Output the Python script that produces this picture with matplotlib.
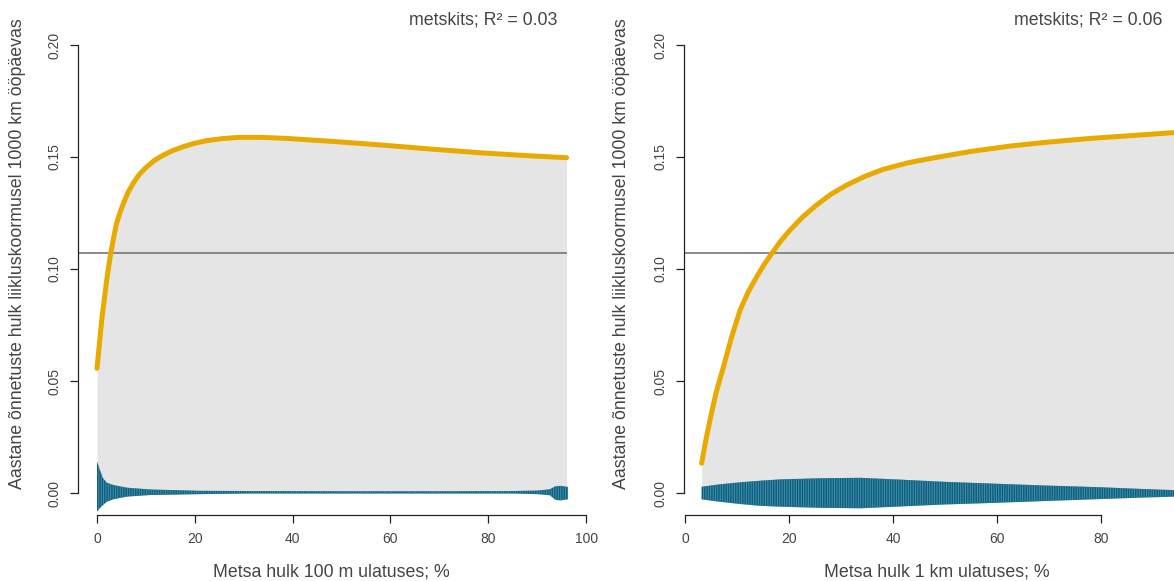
import matplotlib

matplotlib.use("Agg")
import matplotlib.pyplot as plt

# --- andmed (loetud jooniselt) ---
baseline_rate = 0.107

# vasak paneel: metsa hulk 100 m ulatuses
left_x = [0, 0.5, 0.96, 1.5, 1.98, 2.4, 2.8, 3.4, 4.0, 4.7, 5.4, 6.3, 7.4,
          8.7, 10.2, 11.8, 13.6, 15.5, 17.6, 19.9, 22.4, 25.5, 29.2, 33.5,
          38.8, 48.0, 57.9, 68.0, 78.3, 88.0, 96.0]
left_y = [0.0557, 0.0668, 0.0772, 0.0866, 0.0951, 0.1013, 0.1070, 0.1140,
          0.1204, 0.1252, 0.1293, 0.1340, 0.1383, 0.1424, 0.1457, 0.1486,
          0.1509, 0.1529, 0.1546, 0.1561, 0.1573, 0.1582, 0.1588, 0.1588,
          0.1583, 0.1570, 0.1554, 0.1536, 0.1519, 0.1506, 0.1497]
left_band_x = [0, 0.6, 1.2, 2.0, 3.3, 6.1, 10.8, 21, 31, 50, 70, 85, 90,
               92.6, 93.7, 94.7, 95.5, 96.3]
left_band_hi = [0.0141, 0.0103, 0.0067, 0.0046, 0.0036, 0.0024, 0.0016,
                0.0010, 0.0009, 0.0008, 0.0008, 0.0009, 0.0011, 0.0017,
                0.0030, 0.0032, 0.0030, 0.0027]
left_band_lo = [-0.0083, -0.0067, -0.0054, -0.0039, -0.0028, -0.0016,
                -0.0009, -0.0005, -0.0002, -0.0002, -0.0002, -0.0002,
                -0.0005, -0.0010, -0.0030, -0.0033, -0.0030, -0.0028]

# parem paneel: metsa hulk 1 km ulatuses
right_x = [3.2, 4.0, 4.8, 6.0, 7.4, 9.0, 10.6, 12.2, 13.8, 15.2, 16.7, 18.4,
           20.2, 22.6, 25.3, 28.0, 31.1, 34.5, 38.1, 43.0, 48.0, 55.0, 62.5,
           70.0, 77.9, 86.0, 94.0]
right_y = [0.0133, 0.0235, 0.0326, 0.0450, 0.0564, 0.0700, 0.0817, 0.0900,
           0.0966, 0.1020, 0.1070, 0.1125, 0.1174, 0.1232, 0.1286, 0.1333,
           0.1375, 0.1413, 0.1445, 0.1475, 0.1497, 0.1525, 0.1549, 0.1567,
           0.1583, 0.1596, 0.1609]
right_band_x = [3.2, 6.7, 10.6, 14.4, 18.3, 26, 33.7, 41.3, 50, 60.6, 70,
                79.8, 87, 94]
right_band_hi = [0.0028, 0.0039, 0.0048, 0.0055, 0.0061, 0.0066, 0.0068,
                 0.0060, 0.0050, 0.0041, 0.0033, 0.0026, 0.0019, 0.0013]
right_band_lo = [-0.0028, -0.0039, -0.0049, -0.0057, -0.0061, -0.0066,
                 -0.0068, -0.0060, -0.0051, -0.0043, -0.0035, -0.0027,
                 -0.0021, -0.0016]

titles = ["metskits; R\u00b2 = 0.03", "metskits; R\u00b2 = 0.06"]
xlabels = ["Metsa hulk 100 m ulatuses; %", "Metsa hulk 1 km ulatuses; %"]
ylabel = "Aastane õnnetuste hulk liikluskoormusel 1000 km ööpäevas"
y_ticks = [0.00, 0.05, 0.10, 0.15, 0.20]
left_xticks = [0, 20, 40, 60, 80, 100]
right_xticks = [0, 20, 40, 60, 80]

# --- stiil ---
plt.rcParams["font.family"] = ["Liberation Sans", "DejaVu Sans"]
plt.rcParams["hatch.linewidth"] = 0.6

W, H = 1174, 581
TEXT = "#444444"
AXIS = "#222222"
CURVE = "#E8AA00"
FILL = "#E5E5E5"
BAND = "#0D6180"
BAND_STRIPE = "#4C93AD"
HLINE = "#808080"

fig = plt.figure(figsize=(W / 100, H / 100), dpi=100)


def px_axes(x0, x1, y_top, y_bot):
    return fig.add_axes([x0 / W, 1 - y_bot / H, (x1 - x0) / W, (y_bot - y_top) / H])


def draw_panel(ax, xs, ys, bx, blo, bhi, xticks, hline_x):
    ax.fill_between(xs, 0, ys, color=FILL, linewidth=0, zorder=1)
    ax.hlines(baseline_rate, hline_x[0], hline_x[1], color=HLINE, lw=1.3, zorder=2)
    ax.fill_between(bx, blo, bhi, facecolor=BAND, edgecolor=BAND_STRIPE,
                    hatch="|" * 7, linewidth=0, zorder=3)
    ax.plot(xs, ys, color=CURVE, lw=3.6, solid_capstyle="round",
            solid_joinstyle="round", zorder=4)

    for side in ("top", "right"):
        ax.spines[side].set_visible(False)
    for side in ("left", "bottom"):
        ax.spines[side].set_color(AXIS)
        ax.spines[side].set_linewidth(0.9)
    ax.spines["left"].set_bounds(y_ticks[0], y_ticks[-1])
    ax.spines["bottom"].set_bounds(xticks[0], xticks[-1])

    ax.set_yticks(y_ticks)
    ax.set_yticklabels([f"{v:.2f}" for v in y_ticks], rotation=90, va="center")
    ax.set_xticks(xticks)
    ax.set_xticklabels([str(v) for v in xticks])
    ax.tick_params(axis="both", direction="out", length=6, width=0.9,
                   color=AXIS, labelcolor=TEXT, labelsize=10)
    ax.tick_params(axis="x", pad=6)
    ax.tick_params(axis="y", pad=6)
    ax.set_facecolor("none")


y_lim = (-0.0098, 0.2067)

ax1 = px_axes(78, 592, 30, 515)
ax1.set_xlim(-3.885, 101.2)
ax1.set_ylim(*y_lim)
draw_panel(ax1, left_x, left_y, left_band_x, left_band_lo, left_band_hi,
           left_xticks, (-3.885, left_x[-1]))

ax2 = px_axes(684, 1174, 30, 515)
ax2.set_xlim(-0.19, 94.0)
ax2.set_ylim(*y_lim)
draw_panel(ax2, right_x, right_y, right_band_x, right_band_lo, right_band_hi,
           right_xticks, (-0.19, 94.0))

# tekstid
for title, xr in zip(titles, (557, 1162)):
    fig.text(xr / W, 1 - 20 / H, title, ha="right", va="center",
             fontsize=12.8, color=TEXT)
for lab, xc in zip(xlabels, (331, 937)):
    fig.text(xc / W, 1 - 572 / H, lab, ha="center", va="center",
             fontsize=12.8, color=TEXT)
for xc in (18, 622):
    fig.text(xc / W, 1 - 254 / H, ylabel, ha="center", va="center",
             rotation=90, fontsize=12.8, color=TEXT)

fig.savefig("out.png", dpi=100)
